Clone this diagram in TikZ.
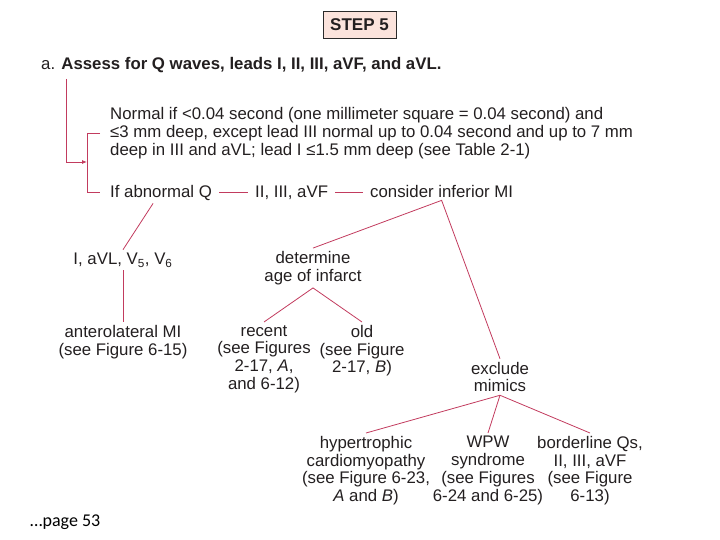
\documentclass[tikz,border=0pt]{standalone}
\usepackage{fontspec}
\setmainfont{Liberation Sans}
\newfontfamily\pagefont{Carlito}
\usetikzlibrary{positioning,arrows.meta}
\definecolor{ink}{HTML}{231F20}
\definecolor{branch}{HTML}{C23B5E}
\definecolor{stepfill}{HTML}{FBE3DC}
\definecolor{stepframe}{HTML}{2A2A2A}

\begin{document}
\begin{tikzpicture}[x=1pt, y=-1pt,
  every node/.style={font=\fontsize{16.8}{17.8}\selectfont, text=ink, inner sep=3pt},
  stepbox/.style={
    draw=stepframe, fill=stepfill, line width=0.9pt,
    minimum width=73pt, minimum height=27pt,
    font=\fontsize{17}{20}\selectfont\bfseries,
  },
  item/.style={align=center},
  branchline/.style={draw=branch, line width=0.8pt},
  tip/.style={-{Latex[length=5pt,width=4pt]}},
]
  \useasboundingbox (0,0) rectangle (720,540);

  \node[stepbox] (step) at (359.5, 24.5) {STEP 5};
  \node[anchor=west] (assess) at (38, 65) {a. \textbf{Assess for Q waves, leads I, II, III, aVF, and aVL.}};

  \node[anchor=west, align=left] (normal) at (107, 133)
    {Normal if <0.04 second (one millimeter square = 0.04 second) and\\
     ≤3 mm deep, except lead III normal up to 0.04 second and up to 7 mm\\
     deep in III and aVL; lead I ≤1.5 mm deep (see Table 2-1)};
  \node[anchor=base west] (abn) at (107, 197) {If abnormal Q};
  \node[anchor=base west] (leads) at (252, 197) {II, III, aVF};
  \node[anchor=base west] (inf) at (367, 197) {consider inferior MI};
  \coordinate (fork) at (87, 162);

  \node[item] (lat) at (123, 260) {I, aVL, V\textsubscript{5}, V\textsubscript{6}};
  \node[item] (antero) at (123, 342) {anterolateral MI\\(see Figure 6-15)};
  \node[item] (age) at (313, 268) {determine\\age of infarct};
  \node[item, anchor=north] (recent) at (264, 322)
    {recent\\(see Figures\\2-17, \textit{A},\\and 6-12)};
  \node[item, anchor=north] (old) at (362, 322)
    {old\\(see Figure\\2-17, \textit{B})};
  \node[item] (excl) at (500, 377) {exclude\\mimics};
  \node[item, anchor=north] (hyp) at (366, 433)
    {hypertrophic\\cardiomyopathy\\(see Figure 6-23,\\\textit{A} and \textit{B})};
  \node[item, anchor=north] (wpw) at (488, 433)
    {WPW\\syndrome\\(see Figures\\6-24 and 6-25)};
  \node[item, anchor=north] (border) at (590, 433)
    {borderline Qs,\\II, III, aVF\\(see Figure\\6-13)};

  \node[anchor=west, font=\pagefont\fontsize{18}{20}\selectfont, text=black] (page) at (27, 522) {…page 53};

  % bracket and entry arrow
  \draw[branchline] ([xshift=-7]normal.west) -- ++(-13,0) |- ([xshift=-7]abn.west);
  \draw[branchline, tip] ([xshift=28, yshift=-3]assess.south west) |- (fork);

  % inline dashes
  \draw[branchline, shorten <=4pt, shorten >=4pt] (abn.east) -- (abn.east -| leads.west);
  \draw[branchline, shorten <=4pt, shorten >=4pt] (leads.east) -- (leads.east -| inf.west);

  % tree
  \draw[branchline] ([xshift=-8]abn.south) -- (lat.north);
  \draw[branchline] (lat.south) -- (antero.north);
  \draw[branchline] (age.north) -- (inf.south) -- (excl.north);
  \draw[branchline] (recent.north) -- (age.south) -- (old.north);
  \draw[branchline] (hyp.north) -- (excl.south) -- (border.north);
  \draw[branchline] (excl.south) -- (wpw.north);
\end{tikzpicture}
\end{document}
